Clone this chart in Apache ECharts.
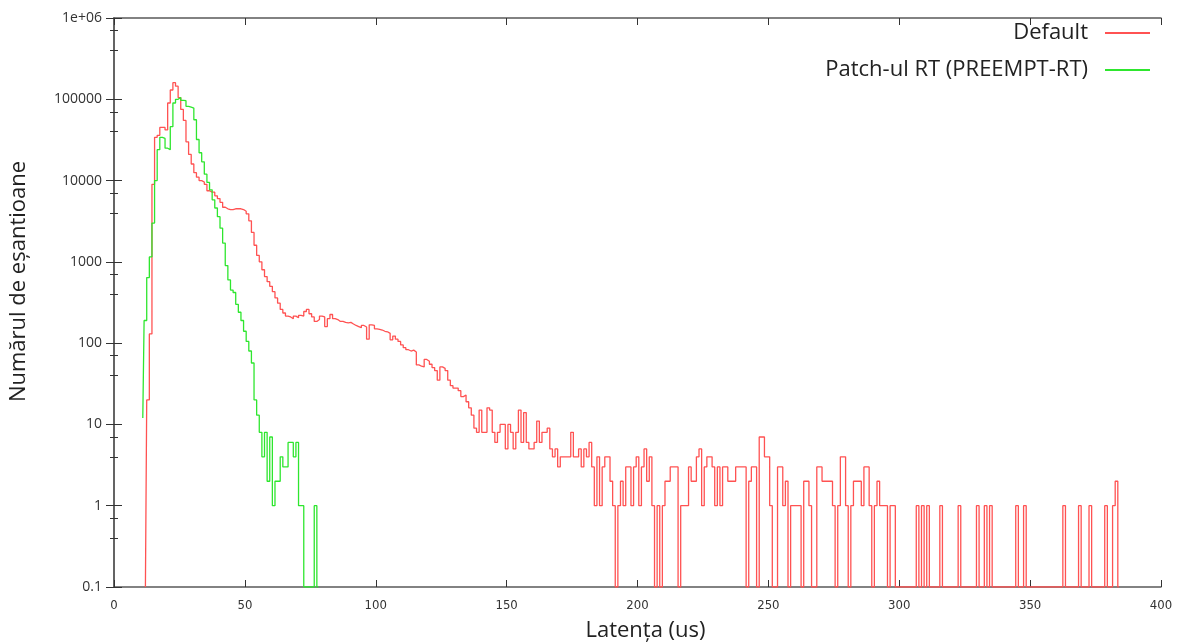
<!DOCTYPE html>
<html>
<head>
<meta charset="utf-8">
<title>Latenta</title>
<script src="https://cdn.jsdelivr.net/npm/echarts@6/dist/echarts.min.js"></script>
<style>
  html, body { margin: 0; padding: 0; background: #fff; }
  #chart { width: 1188px; height: 644px; }
</style>
</head>
<body>
<div id="chart"></div>
<script>
// histogram bins are 1 us wide; counts, 0 = empty bin
const redStart = 12;
const redCounts = [
  0, 20, 130, 9000, 34000, 36000, 45000, 45000, 42000, 90000,          // 12-21
  130000, 160000, 145000, 105000, 75000, 55000, 30000, 21000, 16000, 12500, // 22-31
  11000, 10000, 9600, 9000, 7500, 7200, 7200, 6500, 6000, 5400,         // 32-41
  4700, 4500, 4400, 4400, 4500, 4500, 4500, 4400, 4200, 3900,           // 42-51
  3200, 2300, 1600, 1200, 1000, 800, 660, 570, 500, 430,                // 52-61
  360, 310, 260, 235, 215, 210, 200, 215, 205, 220,                     // 62-71
  215, 245, 260, 230, 210, 185, 195, 215, 210, 160,                     // 72-81
  200, 225, 200, 195, 185, 185, 180, 178, 180, 172,                     // 82-91
  165, 160, 155, 165, 158, 112, 168, 165, 150, 148,                     // 92-101
  145, 140, 138, 132, 110, 122, 112, 105, 95, 88,                       // 102-111
  83, 80, 82, 78, 54, 52, 51, 63, 60, 55,                               // 112-121
  50, 46, 35, 51, 49, 46, 35, 30, 28, 28,                               // 122-131
  26, 22, 23, 19, 16, 13, 9, 8, 15, 8,                                  // 132-141
  8, 16, 15, 8, 6, 8, 10, 10, 5, 10,                                    // 142-151
  8, 5, 8, 15, 6, 14, 6, 5, 5, 6,                                       // 152-161
  11, 6, 8, 8, 9, 5, 4, 5, 3, 4,                                        // 162-171
  4, 4, 4, 8, 4, 4, 5, 3, 5, 4,                                         // 172-181
  6, 3, 1, 4, 1, 3, 4, 4, 2, 1,                                         // 182-191
  0, 1, 2, 1, 3, 3, 1, 3, 4, 1,                                         // 192-201
  3, 5, 2, 4, 1, 0, 1, 0, 1, 2,                                         // 202-211
  2, 3, 3, 3, 0, 1, 1, 1, 3, 2,                                         // 212-221
  2, 4, 5, 1, 3, 4, 4, 3, 1, 3,                                         // 222-231
  1, 3, 3, 2, 2, 2, 3, 3, 3, 3,                                         // 232-241
  0, 2, 3, 3, 0, 7, 7, 4, 4, 1,                                         // 242-251
  0, 0, 3, 3, 1, 2, 0, 1, 1, 1,                                         // 252-261
  1, 0, 2, 2, 1, 0, 0, 3, 3, 2,                                         // 262-271
  2, 2, 2, 1, 0, 1, 4, 4, 1, 0,                                         // 272-281
  1, 2, 2, 2, 1, 3, 3, 1, 0, 1,                                         // 282-291
  2, 1, 1, 1, 0, 1, 1, 0, 0, 0,                                         // 292-301
  0, 0, 0, 0, 0, 1, 0, 1, 0, 1,                                         // 302-311
  0, 0, 0, 0, 1, 0, 0, 0, 0, 0,                                         // 312-321
  0, 1, 0, 0, 0, 0, 0, 0, 1, 0,                                         // 322-331
  0, 1, 0, 1, 0, 0, 0, 0, 0, 0,                                         // 332-341
  0, 0, 0, 1, 0, 0, 1, 0, 0, 0,                                         // 342-351
  0, 0, 0, 0, 0, 0, 0, 0, 0, 0,                                         // 352-361
  0, 1, 0, 0, 0, 0, 0, 1, 0, 0,                                         // 362-371
  0, 1, 0, 0, 0, 0, 0, 1, 0, 0,                                         // 372-381
  1, 2, 0                                                               // 382-384
];

const greenStart = 11;
const greenCounts = [
  12, 190, 640, 1150, 3000, 10000, 24000, 34000, 33000, 25000,          // 11-20
  24000, 46000, 90000, 100000, 105000, 97000, 96000, 82000, 80000, 78000, // 21-30
  56000, 32000, 22000, 17000, 12000, 9500, 7700, 5800, 4600, 3600,      // 31-40
  2600, 1700, 900, 600, 450, 420, 300, 240, 190, 140,                   // 41-50
  105, 80, 57, 20, 13, 8, 4, 8, 2, 7,                                   // 51-60
  1, 2, 2, 4, 3, 3, 6, 6, 4, 6,                                         // 61-70
  1, 1, 0, 0, 0, 0, 1, 0                                                // 71-78
];

const xTicks = [0, 50, 100, 150, 200, 250, 300, 350, 400];
const yTickValues = [0.1, 1, 10, 100, 1000, 10000, 100000, 1000000];
const yTickLabels = ['0.1', '1', '10', '100', '1000', '10000', '100000', '1e+06'];

const FLOOR = 0.1; // empty bins sit on the bottom of the log axis

function toPairs(start, counts) {
  return counts.map((c, i) => [start + i, c > 0 ? c : FLOOR]);
}

function yLabel(v) {
  const lv = Math.log10(v);
  for (let i = 0; i < yTickValues.length; i++) {
    if (Math.abs(Math.log10(yTickValues[i]) - lv) < 1e-6) return yTickLabels[i];
  }
  return '';
}

const font = '"Open Sans", "Noto Sans", sans-serif';
const frame = { show: true, lineStyle: { color: '#5a5a5a', width: 1.5 } };
const tickStyle = { color: '#333', width: 1 };

const chart = echarts.init(document.getElementById('chart'));

const options = {
  animation: false,
  backgroundColor: '#fff',
  grid: { left: 114, right: 27, top: 18, bottom: 57, containLabel: false, outerBoundsMode: 'none' },
  legend: [
    {
      data: ['Default'], right: 38, top: 22, padding: 0, align: 'right',
      icon: 'rect', itemWidth: 45, itemHeight: 2,
      textStyle: { fontFamily: font, fontSize: 22, color: '#222', padding: [0, 12, 0, 0] }
    },
    {
      data: ['Patch-ul RT (PREEMPT-RT)'], right: 38, top: 59, padding: 0, align: 'right',
      icon: 'rect', itemWidth: 45, itemHeight: 2,
      textStyle: { fontFamily: font, fontSize: 22, color: '#222', padding: [0, 12, 0, 0] }
    }
  ],
  xAxis: [
    {
      type: 'value', min: xTicks[0], max: xTicks[xTicks.length - 1], interval: 50,
      position: 'bottom',
      axisLine: frame,
      axisTick: { show: true, inside: true, length: 7, lineStyle: tickStyle },
      axisLabel: { margin: 12, fontSize: 13, color: '#333', fontFamily: '"DejaVu Sans Condensed", "DejaVu Sans", sans-serif' },
      splitLine: { show: false },
      name: 'Latența (us)', nameLocation: 'middle', nameGap: 33,
      nameTextStyle: { fontFamily: font, fontSize: 22, color: '#222', padding: [0, 0, 0, 16] }
    },
    {
      type: 'value', min: xTicks[0], max: xTicks[xTicks.length - 1], interval: 50,
      position: 'top',
      axisLine: frame,
      axisTick: { show: true, inside: true, length: 7, lineStyle: tickStyle },
      axisLabel: { show: false },
      splitLine: { show: false }
    }
  ],
  yAxis: [
    {
      type: 'log', logBase: 10, min: 0.1, max: 1000000, splitNumber: 7,
      position: 'left',
      axisLine: frame,
      axisTick: { show: true, inside: true, length: 8, lineStyle: tickStyle },
      minorTick: { show: true, splitNumber: 3, length: 4, lineStyle: tickStyle },
      axisLabel: { margin: 12, fontSize: 14, color: '#333', fontFamily: font, formatter: yLabel },
      splitLine: { show: false },
      name: 'Numărul de eșantioane', nameLocation: 'middle', nameGap: 84,
      nameTextStyle: { fontFamily: font, fontSize: 22, color: '#222', padding: [0, 0, 0, 42] }
    },
    {
      type: 'log', logBase: 10, min: 0.1, max: 1000000, splitNumber: 7,
      position: 'right',
      axisLine: frame,
      axisTick: { show: true, inside: true, length: 8, lineStyle: tickStyle },
      minorTick: { show: true, splitNumber: 3, length: 4, lineStyle: tickStyle },
      axisLabel: { show: false },
      splitLine: { show: false }
    }
  ],
  series: [
    {
      name: 'Default', type: 'line', step: 'middle', showSymbol: false, symbol: 'none',
      xAxisIndex: 0, yAxisIndex: 0,
      data: toPairs(redStart, redCounts),
      lineStyle: { color: '#ff5252', width: 1.3 },
      itemStyle: { color: '#ff5252' }
    },
    {
      name: 'Patch-ul RT (PREEMPT-RT)', type: 'line', step: 'middle', showSymbol: false, symbol: 'none',
      xAxisIndex: 0, yAxisIndex: 0,
      data: toPairs(greenStart, greenCounts),
      lineStyle: { color: '#2ee62e', width: 1.3 },
      itemStyle: { color: '#2ee62e' }
    }
  ]
};

chart.setOption(options);

window.addEventListener('resize', () => {
  chart.resize();
});
</script>
</body>
</html>
